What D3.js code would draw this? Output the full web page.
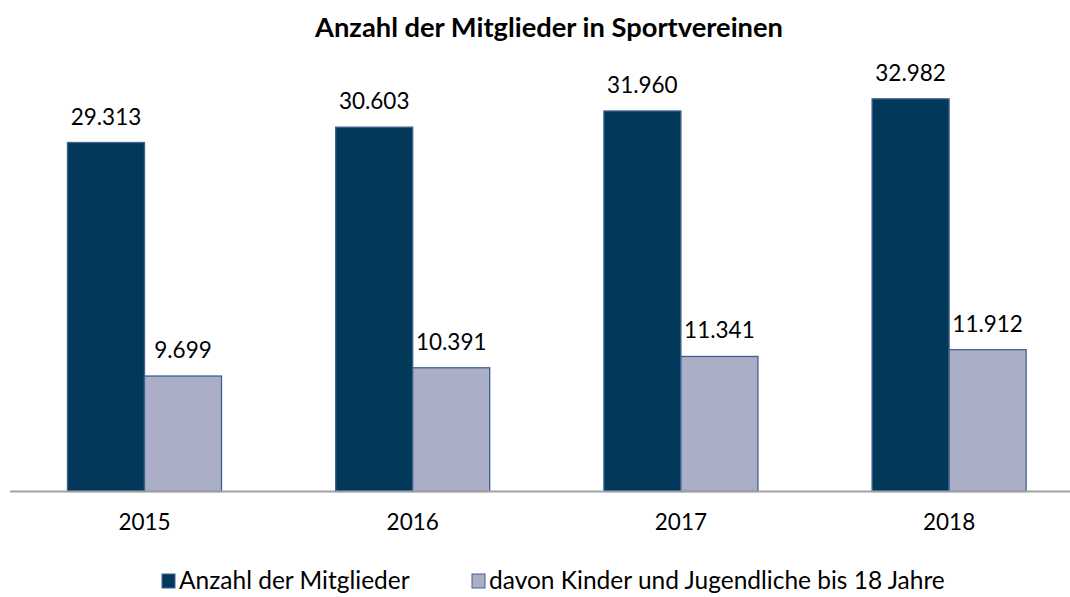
<!DOCTYPE html>
<html>
<head>
<meta charset="utf-8">
<script src="https://cdn.jsdelivr.net/npm/d3@7"></script>
<style>
  html, body { margin: 0; padding: 0; background: #ffffff; }
  svg { display: block; font-family: Lato, "Open Sans", sans-serif; }
</style>
</head>
<body>
<svg id="chart" width="1070" height="597"></svg>
<script>
const title = "Anzahl der Mitglieder in Sportvereinen";
const categories = ["2015", "2016", "2017", "2018"];
const seriesNames = ["Anzahl der Mitglieder", "davon Kinder und Jugendliche bis 18 Jahre"];
const members = [29313, 30603, 31960, 32982];
const youth = [9699, 10391, 11341, 11912];
const valueLabels = [
  ["29.313", "30.603", "31.960", "32.982"],
  ["9.699", "10.391", "11.341", "11.912"]
];
const fills = ["#02385a", "#aaafc7"];

const svg = d3.select("#chart");
const baseY = 491.5;

const x0 = d3.scaleBand().domain(categories).range([10.4, 1083.2]).paddingInner(0.4257).paddingOuter(0.2128);
const x1 = d3.scaleBand().domain([0, 1]).range([0, x0.bandwidth()]);
const y = d3.scaleLinear().domain([0, 35000]).range([baseY, baseY - 416.7]);

svg.append("text")
  .attr("x", 549).attr("y", 37)
  .attr("text-anchor", "middle")
  .attr("font-weight", "bold")
  .attr("font-size", 27.3)
  .attr("fill", "#000")
  .text(title);

const data = [members, youth];

const groups = svg.append("g").selectAll("g")
  .data(categories)
  .join("g")
  .attr("transform", d => `translate(${x0(d)},0)`);

groups.selectAll("rect")
  .data((d, i) => [0, 1].map(s => ({ s, v: data[s][i], label: valueLabels[s][i] })))
  .join("rect")
  .attr("x", d => x1(d.s))
  .attr("y", d => y(d.v))
  .attr("width", x1.bandwidth())
  .attr("height", d => baseY - y(d.v))
  .attr("fill", d => fills[d.s])
  .attr("stroke", "#3e6190")
  .attr("stroke-width", 1.3);

groups.selectAll("text")
  .data((d, i) => [0, 1].map(s => ({ s, v: data[s][i], label: valueLabels[s][i] })))
  .join("text")
  .attr("x", d => x1(d.s) + x1.bandwidth() / 2)
  .attr("y", d => y(d.v) - 18)
  .attr("text-anchor", "middle")
  .attr("font-size", 22.5)
  .attr("fill", "#000")
  .text(d => d.label);

// axis
const xAxis = d3.axisBottom(x0).tickSize(0).tickPadding(23);
const ax = svg.append("g").attr("transform", `translate(0,${baseY})`).call(xAxis);
ax.select(".domain").attr("stroke", "#a0a0a0").attr("stroke-width", 2).attr("d", `M10,0H1083`);
ax.selectAll("text").attr("font-size", 22.5).attr("font-family", "Lato, 'Open Sans', sans-serif").attr("fill", "#000");

// legend
const legend = svg.append("g");
const legendItems = [
  { x: 162, name: seriesNames[0], fill: fills[0] },
  { x: 472, name: seriesNames[1], fill: fills[1] }
];
legendItems.forEach(li => {
  legend.append("rect").attr("x", li.x).attr("y", 574).attr("width", 13).attr("height", 14)
    .attr("fill", li.fill).attr("stroke", "#3e6190").attr("stroke-width", 1);
  legend.append("text").attr("x", li.x + 17).attr("y", 589)
    .attr("font-size", 24.5).attr("fill", "#000").text(li.name);
});
</script>
</body>
</html>
